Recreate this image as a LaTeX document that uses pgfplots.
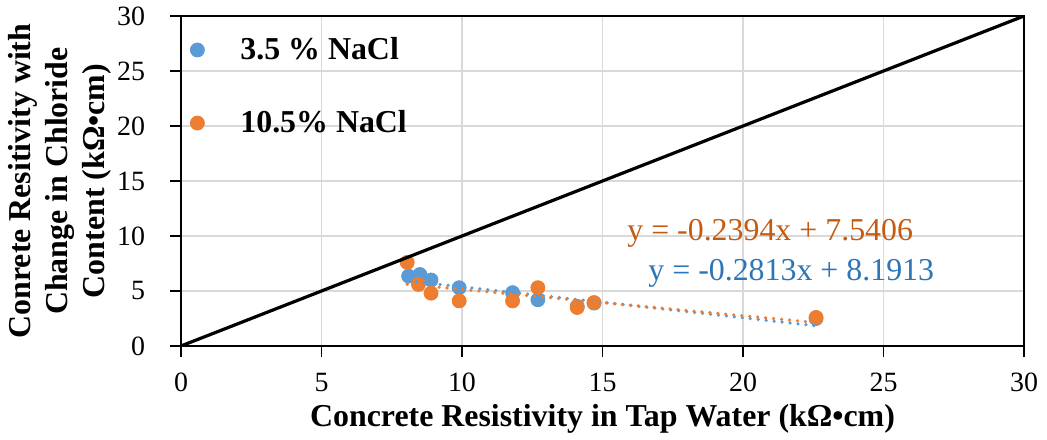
\documentclass[border=0pt]{standalone}
\usepackage{fontspec}
\setmainfont{Liberation Serif}
\usepackage{pgfplots}
\pgfplotsset{compat=1.18}
\definecolor{sblue}{HTML}{5B9BD5}
\definecolor{sorange}{HTML}{ED7D31}
\definecolor{eqblue}{HTML}{2E75B6}
\definecolor{eqorange}{HTML}{C55A11}
\definecolor{gridgray}{HTML}{D9D9D9}
\begin{document}
\begin{tikzpicture}
\useasboundingbox (-90.5bp,-47bp) rectangle (433bp,173bp);
\begin{axis}[
  at={(0,0)}, anchor=south west,
  scale only axis, width=421.5bp, height=165bp,
  xmin=0, xmax=30, ymin=0, ymax=30,
  xtick={0,5,...,30}, ytick={0,5,...,30},
  xtick pos=bottom, ytick pos=left,
  tick align=outside, major tick length=5.5bp,
  tick style={black, line width=0.8bp},
  axis line style={black, line width=0.8bp},
  grid=major, grid style={gridgray, line width=0.6bp},
  /pgf/number format/assume math mode=true,
  ticklabel style={font=\fontsize{14}{16}\selectfont},
  yticklabel style={xshift=-9bp},
  xticklabel style={yshift=-4.5bp},
  clip mode=individual,
  xlabel={Concrete Resistivity in Tap Water (kΩ•cm)},
  xlabel style={font=\bfseries\fontsize{16}{19}\selectfont, at={(axis description cs:0.5,0)}, anchor=base, yshift=-40bp},
  legend style={at={(rel axis cs:0,1)}, anchor=north west, xshift=4.5bp, yshift=-10.5bp,
    draw=none, fill=none, inner sep=0pt, row sep=24bp, column sep=18bp,
    font=\bfseries\fontsize{16}{19}\selectfont, nodes={inner sep=0pt}},
  legend cell align=left,
  legend image code/.code={\draw[#1] plot coordinates {(0bp,0bp)};},
]
\addplot[only marks, mark=*, mark size=3.5bp, sblue, mark options={draw=sblue, fill=sblue}] coordinates {
(8.1,6.35) (8.5,6.5) (8.9,6.0) (9.9,5.3) (11.8,4.85) (12.7,4.2) (14.1,3.6) (14.7,3.9) (22.6,2.5)};
\addlegendentry{3.5 \% NaCl}
\addplot[only marks, mark=*, mark size=3.5bp, sorange, mark options={draw=sorange, fill=sorange}] coordinates {
(8.05,7.6) (8.45,5.6) (8.9,4.8) (9.9,4.1) (11.8,4.1) (12.7,5.3) (14.1,3.5) (14.7,3.95) (22.6,2.6)};
\addlegendentry{10.5\% NaCl}
\addplot[sblue, line width=1.8bp, line cap=round, dash pattern=on 0pt off 4bp, forget plot] coordinates {(8.09,5.915) (22.6,1.834)};
\addplot[sorange, line width=1.8bp, line cap=round, dash pattern=on 0pt off 4bp, forget plot] coordinates {(8.05,5.613) (22.6,2.130)};
\addplot[black, line width=1.6bp, forget plot] coordinates {(0,0) (30,30)};
\node[anchor=west, inner sep=0pt, text=eqorange, font=\fontsize{16}{19}\selectfont] at (axis cs:15.87,10.27) {y = -0.2394x + 7.5406};
\node[anchor=west, inner sep=0pt, text=eqblue, font=\fontsize{16}{19}\selectfont] at (axis cs:16.62,6.64) {y = -0.2813x + 8.1913};
\node[rotate=90, align=center, font=\bfseries\fontsize{16}{18.5}\selectfont] at ([xshift=-60.5bp]rel axis cs:0,0.5) {Conrete Resitivity with\\Change in Chloride\\Content (kΩ•cm)};
\end{axis}
\end{tikzpicture}
\end{document}
